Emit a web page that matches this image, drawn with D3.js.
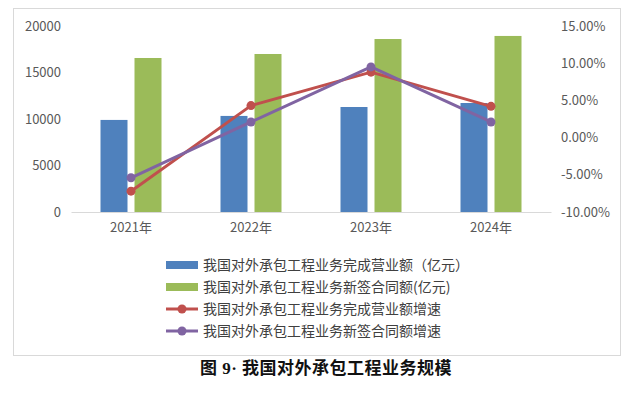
<!DOCTYPE html>
<html>
<head>
<meta charset="utf-8">
<script src="https://cdn.jsdelivr.net/npm/d3@7"></script>
<style>
  body { margin: 0; background: #fff; }
  svg text { font-family: "Microsoft YaHei", "Noto Sans CJK SC", "DejaVu Sans", sans-serif; }
</style>
</head>
<body>
<div id="chart"></div>
<script>
const years = ["2021年", "2022年", "2023年", "2024年"];
const revenue = [9900, 10330, 11290, 11720];
const contracts = [16560, 16990, 18600, 18930];
const revenueGrowth = [-7.2, 4.3, 8.8, 4.2];
const contractGrowth = [-5.4, 2.1, 9.5, 2.1];
const leftTicks = [0, 5000, 10000, 15000, 20000];
const rightTicks = [-10, -5, 0, 5, 10, 15];
const seriesNames = [
  "我国对外承包工程业务完成营业额（亿元）",
  "我国对外承包工程业务新签合同额(亿元)",
  "我国对外承包工程业务完成营业额增速",
  "我国对外承包工程业务新签合同额增速"
];
const colors = ["#4F81BD", "#9BBB59", "#C0504D", "#8064A2"];
const caption = "图 9· 我国对外承包工程业务规模";

const W = 633, H = 395;
const plot = {left: 71, right: 551, top: 26, bottom: 212};

const svg = d3.select("#chart").append("svg")
    .attr("width", W)
    .attr("height", H);

// outer frame
svg.append("rect")
    .attr("x", 13.5).attr("y", 8.5)
    .attr("width", 607).attr("height", 347)
    .attr("fill", "#fff")
    .attr("stroke", "#d9d9d9");

const x = d3.scaleBand()
    .domain(years)
    .range([plot.left, plot.right]);

const yL = d3.scaleLinear().domain([0, 20000]).range([plot.bottom, plot.top]);
const yR = d3.scaleLinear().domain([-10, 15]).range([plot.bottom, plot.top]);

// left axis
const gL = svg.append("g")
    .attr("transform", `translate(${plot.left},0)`)
    .call(d3.axisLeft(yL).tickValues(leftTicks).tickSize(0).tickPadding(10)
      .tickFormat(d => String(d)));
gL.select(".domain").remove();

// right axis
const gR = svg.append("g")
    .attr("transform", `translate(${plot.right},0)`)
    .call(d3.axisRight(yR).tickValues(rightTicks).tickSize(0).tickPadding(10)
      .tickFormat(d => d.toFixed(2) + "%"));
gR.select(".domain").remove();

// bottom axis
const gB = svg.append("g")
    .attr("transform", `translate(0,${plot.bottom})`)
    .call(d3.axisBottom(x).tickSize(0).tickPadding(11));
gB.select(".domain").attr("stroke", "#d9d9d9");

svg.selectAll(".tick text")
    .attr("fill", "#595959")
    .style("font-size", "13px");

// bars
const barW = 27, gap = 7;
svg.append("g").selectAll("rect")
    .data(revenue)
    .enter().append("rect")
    .attr("x", (d, i) => x(years[i]) + x.bandwidth() / 2 - gap / 2 - barW)
    .attr("y", d => yL(d))
    .attr("width", barW)
    .attr("height", d => plot.bottom - yL(d))
    .attr("fill", colors[0]);

svg.append("g").selectAll("rect")
    .data(contracts)
    .enter().append("rect")
    .attr("x", (d, i) => x(years[i]) + x.bandwidth() / 2 + gap / 2)
    .attr("y", d => yL(d))
    .attr("width", barW)
    .attr("height", d => plot.bottom - yL(d))
    .attr("fill", colors[1]);

// lines
const line = d3.line()
    .x((d, i) => x(years[i]) + x.bandwidth() / 2)
    .y(d => yR(d));

[[revenueGrowth, colors[2]], [contractGrowth, colors[3]]].forEach(([data, c]) => {
  svg.append("path")
      .datum(data)
      .attr("fill", "none")
      .attr("stroke", c)
      .attr("stroke-width", 3)
      .attr("stroke-linejoin", "round")
      .attr("d", line);
  svg.append("g").selectAll("circle")
      .data(data)
      .enter().append("circle")
      .attr("cx", (d, i) => x(years[i]) + x.bandwidth() / 2)
      .attr("cy", d => yR(d))
      .attr("r", 4.5)
      .attr("fill", c);
});

// legend
const legend = svg.append("g");
seriesNames.forEach((name, i) => {
  const ly = 265 + i * 22;
  if (i < 2) {
    legend.append("rect")
        .attr("x", 166).attr("y", ly - 4)
        .attr("width", 32).attr("height", 8)
        .attr("fill", colors[i]);
  } else {
    legend.append("line")
        .attr("x1", 166).attr("x2", 198)
        .attr("y1", ly).attr("y2", ly)
        .attr("stroke", colors[i]).attr("stroke-width", 3);
    legend.append("circle")
        .attr("cx", 182).attr("cy", ly).attr("r", 4.5)
        .attr("fill", colors[i]);
  }
  legend.append("text")
      .attr("x", 203).attr("y", ly)
      .attr("dy", "0.35em")
      .attr("fill", "#404040")
      .style("font-size", "14px")
      .text(name);
});

// caption
svg.append("text")
    .attr("x", 326).attr("y", 368)
    .attr("dy", "0.35em")
    .attr("text-anchor", "middle")
    .attr("fill", "#111")
    .style("font-family", "'Liberation Serif', 'Noto Sans CJK SC', serif")
    .style("font-weight", "bold")
    .style("font-size", "17px")
    .style("letter-spacing", "0.5px")
    .text(caption);
</script>
</body>
</html>
